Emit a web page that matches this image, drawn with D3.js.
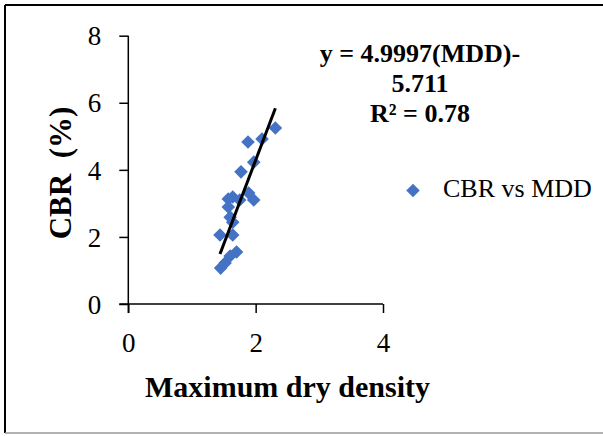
<!DOCTYPE html>
<html>
<head>
<meta charset="utf-8">
<script src="https://cdn.jsdelivr.net/npm/d3@7"></script>
<style>
  body { margin: 0; background: #fff; }
  svg { display: block; }
</style>
</head>
<body>
<div id="chart"></div>
<script>
// Maximum dry density (x) vs CBR % (y)
var mdd = [2.31, 2.10, 1.88, 1.97, 1.77, 1.89, 1.97, 1.64, 1.57, 1.75, 1.57, 1.60, 1.64, 1.44, 1.64, 1.70, 1.60, 1.52, 1.45];
var cbr = [5.25, 4.92, 4.83, 4.23, 3.94, 3.31, 3.10, 3.19, 3.13, 3.10, 2.89, 2.59, 2.44, 2.06, 2.06, 1.55, 1.43, 1.22, 1.07];
var xTicks = [0, 2, 4];
var yTicks = [0, 2, 4, 6, 8];
var slope = 4.9997, intercept = -5.711;
var eqLines = ["y = 4.9997(MDD)-", "5.711", "R\u00b2 = 0.78"];
var seriesName = "CBR vs MDD";

var width = 603, height = 436;
var blue = "#4472C4";
var serif = "'Liberation Serif', 'Times New Roman', serif";

var svg = d3.select("#chart").append("svg")
  .attr("width", width)
  .attr("height", height);

// outer frame
svg.append("line").attr("x1", 5).attr("y1", 5).attr("x2", width).attr("y2", 5)
  .attr("stroke", "#000").attr("stroke-width", 2);
svg.append("line").attr("x1", 5).attr("y1", 5).attr("x2", 5).attr("y2", 433)
  .attr("stroke", "#000").attr("stroke-width", 2);
svg.append("line").attr("x1", 5).attr("y1", 433).attr("x2", width).attr("y2", 433)
  .attr("stroke", "#999").attr("stroke-width", 1.5);

// scales
var x = d3.scaleLinear().domain([0, 4]).range([128.3, 383]);
var y = d3.scaleLinear().domain([0, 8]).range([304, 35.7]);

// x axis
var xAxis = svg.append("g")
  .attr("transform", "translate(0," + y(0) + ")")
  .call(d3.axisBottom(x).tickValues(xTicks).tickFormat(d3.format("d")).tickSize(9).tickSizeOuter(0));
xAxis.select(".domain").attr("stroke", "#000").attr("stroke-width", 1.5)
  .attr("d", "M" + (x(0) - 9) + ",0H" + x(4));
xAxis.selectAll(".tick line").attr("stroke", "#000").attr("stroke-width", 1.5);
xAxis.selectAll(".tick text")
  .attr("font-family", serif).attr("font-size", 27).attr("fill", "#000")
  .attr("dy", null).attr("y", 48);

// y axis
var yAxis = svg.append("g")
  .attr("transform", "translate(" + x(0) + ",0)")
  .call(d3.axisLeft(y).tickValues(yTicks).tickFormat(d3.format("d")).tickSize(9).tickSizeOuter(0));
yAxis.select(".domain").attr("stroke", "#000").attr("stroke-width", 1.5)
  .attr("d", "M0," + y(8) + "V" + (y(0) + 9));
yAxis.selectAll(".tick line").attr("stroke", "#000").attr("stroke-width", 1.5);
yAxis.selectAll(".tick text")
  .attr("font-family", serif).attr("font-size", 27).attr("fill", "#000")
  .attr("dy", "0.34em").attr("x", -27);

// data points as diamonds
var pts = mdd.map(function(v, i) { return { x: v, y: cbr[i] }; });
var diamond = d3.symbol().type(d3.symbolSquare).size(92);
svg.append("g").selectAll("path")
  .data(pts)
  .enter()
  .append("path")
  .attr("d", diamond)
  .attr("transform", function(d) { return "translate(" + x(d.x) + "," + y(d.y) + ") rotate(45)"; })
  .attr("fill", blue);

// trend line over the data range
var xr = d3.extent(mdd);
svg.append("line")
  .attr("x1", x(xr[0])).attr("y1", y(slope * xr[0] + intercept))
  .attr("x2", x(xr[1])).attr("y2", y(slope * xr[1] + intercept))
  .attr("stroke", "#000").attr("stroke-width", 3);

// equation label
svg.append("g").selectAll("text")
  .data(eqLines)
  .enter()
  .append("text")
  .attr("x", 420)
  .attr("y", function(d, i) { return 62 + i * 30; })
  .attr("text-anchor", "middle")
  .attr("font-family", serif).attr("font-size", 26).attr("font-weight", "bold")
  .text(function(d) { return d; });

// legend
svg.append("path")
  .attr("d", diamond)
  .attr("transform", "translate(413,190.5) rotate(45)")
  .attr("fill", blue);
svg.append("text")
  .attr("x", 443).attr("y", 197)
  .attr("font-family", serif).attr("font-size", 26)
  .text(seriesName);

// axis titles
svg.append("text")
  .attr("x", 287.5).attr("y", 397)
  .attr("text-anchor", "middle")
  .attr("font-family", serif).attr("font-size", 30).attr("font-weight", "bold")
  .text("Maximum dry density");

svg.append("text")
  .attr("transform", "translate(71,173) rotate(-90)")
  .attr("text-anchor", "middle")
  .attr("font-family", serif).attr("font-size", 31).attr("font-weight", "bold")
  .attr("xml:space", "preserve")
  .style("white-space", "pre")
  .text("CBR  (%)");
</script>
</body>
</html>
